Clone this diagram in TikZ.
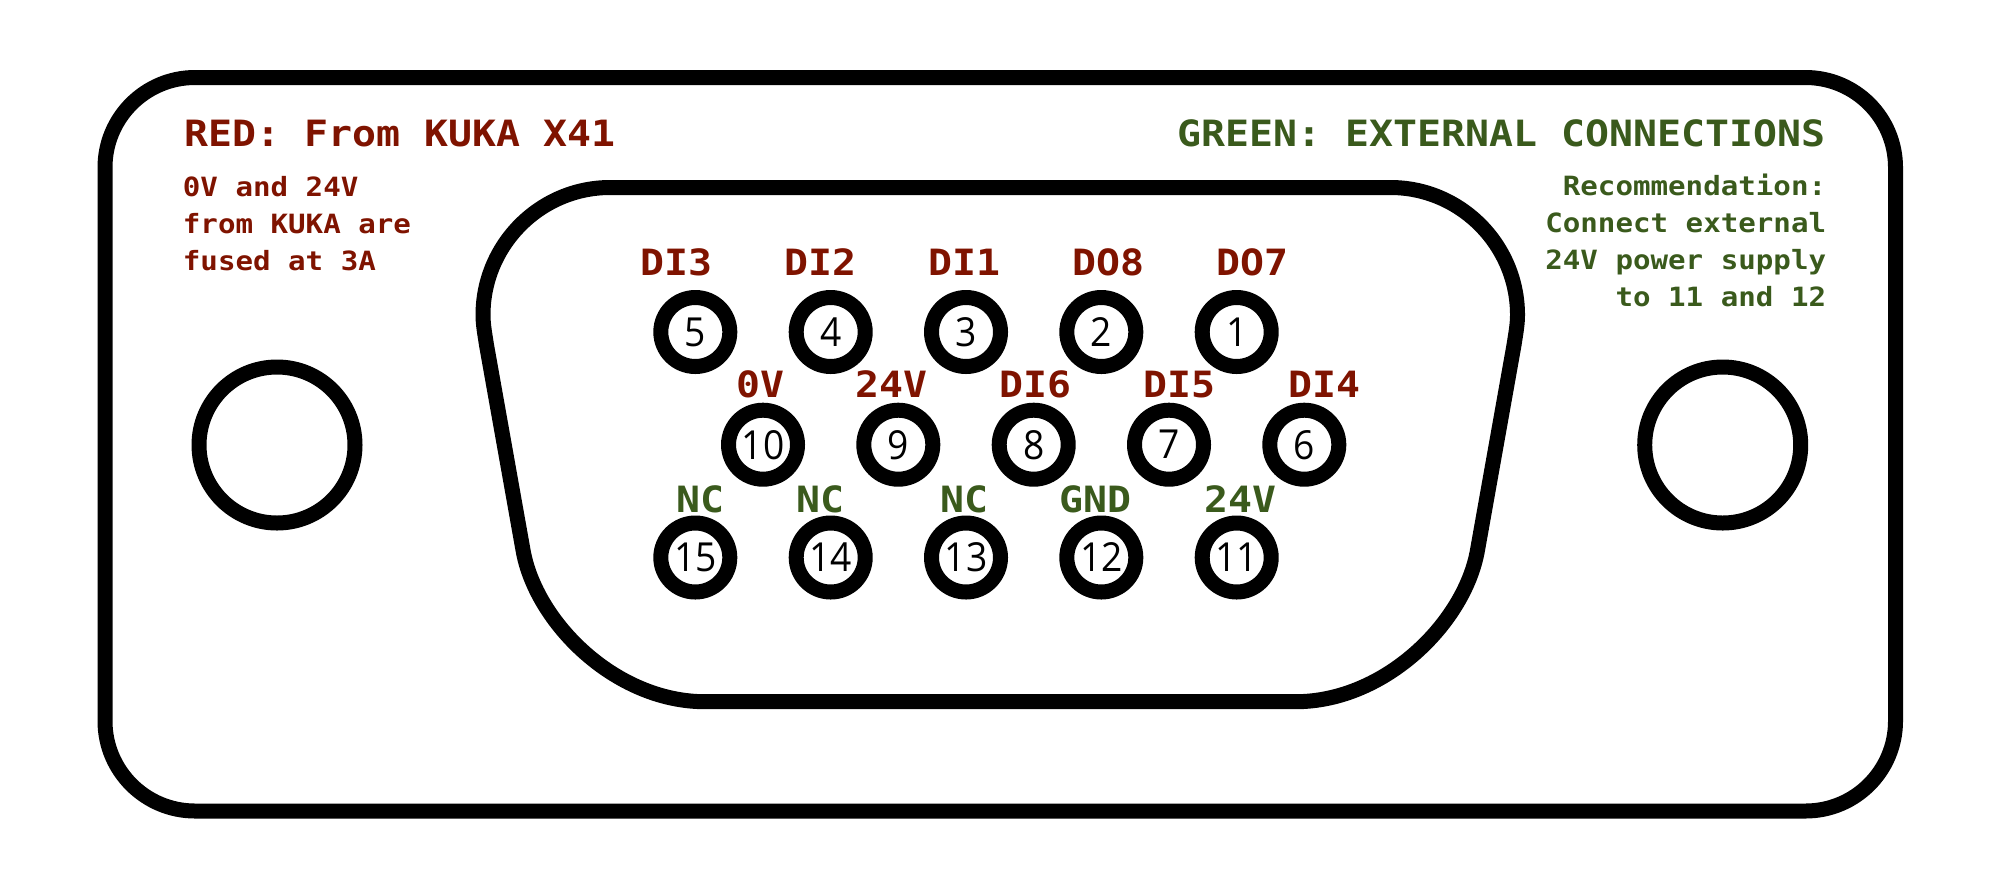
\documentclass[tikz,border=0pt]{standalone}
\usepackage{fontspec}
\usetikzlibrary{positioning}
\newfontfamily\labelfont[FakeStretch=1.1]{DejaVu Sans Mono}
\newfontfamily\numfont[FakeStretch=0.93]{Open Sans}
\definecolor{kukared}{HTML}{7F1300}
\definecolor{extgreen}{HTML}{3A5A1C}
\tikzset{
    shell/.style={line width=7.5pt},
    pin/.style={circle, draw, line width=7.5pt, minimum size=34.5pt, inner sep=0pt, font=\numfont\fontsize{20}{24}\selectfont},
    hole/.style={circle, draw, line width=7.5pt, minimum size=78pt, inner sep=0pt},
    redlabel/.style={kukared, anchor=base, inner sep=0pt, font=\labelfont\bfseries\fontsize{18.1}{22}\selectfont},
    greenlabel/.style={extgreen, anchor=base, inner sep=0pt, font=\labelfont\bfseries\fontsize{18.1}{22}\selectfont},
    rednote/.style={kukared, inner sep=0pt, align=left, font=\labelfont\bfseries\fontsize{13.25}{18.5}\selectfont},
    greennote/.style={extgreen, inner sep=0pt, align=right, font=\labelfont\bfseries\fontsize{13.25}{18.5}\selectfont}
}
\begin{document}
\begin{tikzpicture}[x=0.5pt,y=-0.5pt]
    \useasboundingbox (0,0) rectangle (2000,890);

    % Housing
    \draw[shell, rounded corners=45pt] (105,77.5) rectangle (1895.5,811);
    \node[hole] (holeL) at (277,445) {};
    \node[hole] (holeR) at (1722.7,445) {};

    % D-shaped shell
    \draw[shell] (610,187.5) -- (1390.5,187.5)
        .. controls (1460.5,187.5) and (1517.5,245) .. (1517.5,315)
        .. controls (1517.5,325) and (1515.5,335) .. (1514,345)
        -- (1477.5,550)
        .. controls (1465,622) and (1385.5,701.7) .. (1295.5,701.7)
        -- (705,701.7)
        .. controls (615,701.7) and (535.5,622) .. (523,550)
        -- (486.5,345)
        .. controls (485,335) and (483,325) .. (483,315)
        .. controls (483,245) and (540,187.5) .. (610,187.5) -- cycle;

    % Pins, top row
    \node[pin] (p5) at (695.3,332) {5};
    \node[pin] (p4) at (830.7,332) {4};
    \node[pin] (p3) at (966,332) {3};
    \node[pin] (p2) at (1101.3,332) {2};
    \node[pin] (p1) at (1236.7,332) {1};
    % Pins, middle row
    \node[pin] (p10) at (763,444.7) {10};
    \node[pin] (p9) at (898.3,444.7) {9};
    \node[pin] (p8) at (1033.7,444.7) {8};
    \node[pin] (p7) at (1169,444.7) {7};
    \node[pin] (p6) at (1304.3,444.7) {6};
    % Pins, bottom row
    \node[pin] (p15) at (695.3,557.5) {15};
    \node[pin] (p14) at (830.7,557.5) {14};
    \node[pin] (p13) at (966,557.5) {13};
    \node[pin] (p12) at (1101.3,557.5) {12};
    \node[pin] (p11) at (1236.7,557.5) {11};

    % Signal names
    \node[redlabel] (l5) at (676.7,275) {DI3};
    \node[redlabel] (l4) at (820.8,275) {DI2};
    \node[redlabel] (l3) at (964.7,275) {DI1};
    \node[redlabel] (l2) at (1108.7,275) {DO8};
    \node[redlabel] (l1) at (1252.7,275) {DO7};
    \node[redlabel] (l10) at (760.8,397.7) {0V};
    \node[redlabel] (l9) at (891.7,397.7) {24V};
    \node[redlabel] (l8) at (1035.8,397.7) {DI6};
    \node[redlabel] (l7) at (1179.5,397.7) {DI5};
    \node[redlabel] (l6) at (1324,397.7) {DI4};
    \node[greenlabel] (l15) at (700,512) {NC};
    \node[greenlabel] (l14) at (820.3,512) {NC};
    \node[greenlabel] (l13) at (964,512) {NC};
    \node[greenlabel] (l12) at (1095.8,512) {GND};
    \node[greenlabel] (l11) at (1240.5,512) {24V};

    % Legend
    \node[redlabel, anchor=base west] (legendR) at (184,146) {RED: From KUKA X41};
    \node[greenlabel, anchor=base east] (legendG) at (1825.5,146) {GREEN: EXTERNAL CONNECTIONS};
    \node[rednote, anchor=base west] (noteR) at (182.5,270) {0V and 24V\\from KUKA are\\fused at 3A};
    \node[greennote, anchor=base east] (noteG) at (1826.5,306) {Recommendation:\\Connect external\\24V power supply\\to 11 and 12};
\end{tikzpicture}
\end{document}
